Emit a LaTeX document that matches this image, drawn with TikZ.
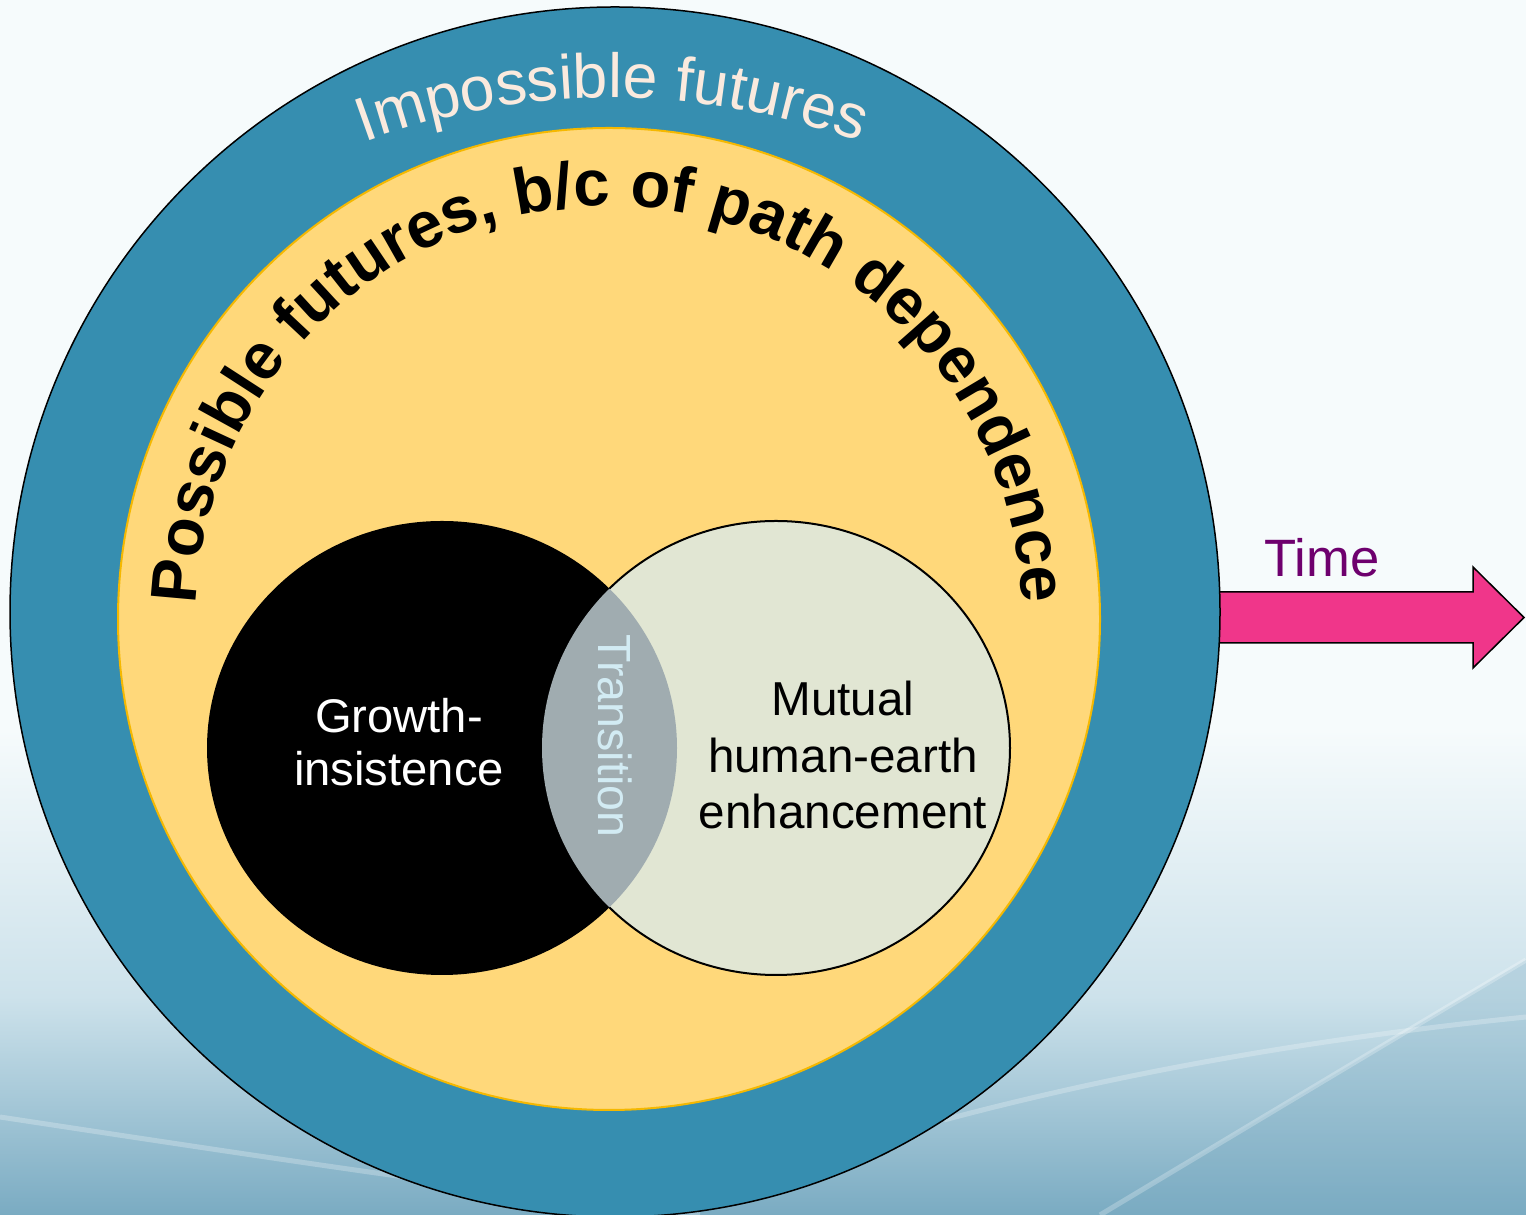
\documentclass[tikz,border=0pt]{standalone}
\usepackage{fontspec}
\setmainfont{Liberation Sans}
\usetikzlibrary{decorations.text}
\definecolor{bgtop}{RGB}{246,251,252}
\definecolor{bgmid}{RGB}{205,226,235}
\definecolor{bgbot}{RGB}{122,171,194}
\definecolor{outercol}{RGB}{54,142,176}
\definecolor{yellowcol}{RGB}{255,216,122}
\definecolor{goldcol}{RGB}{245,184,0}
\definecolor{lightcol}{RGB}{225,230,211}
\definecolor{lenscol}{RGB}{160,172,176}
\definecolor{transcol}{RGB}{210,235,243}
\definecolor{impcol}{RGB}{250,234,222}
\definecolor{timecol}{RGB}{110,0,110}
\definecolor{arrowcol}{RGB}{240,54,138}
\pgfdeclareverticalshading{bgshade}{100bp}{color(0bp)=(bgbot); color(25bp)=(bgbot); color(34bp)=(bgmid); color(45bp)=(bgtop); color(100bp)=(bgtop)}
\tikzset{
  ribbon/.style={draw=white, opacity=0.25, line width=2.5pt},
  label/.style={inner sep=0pt, align=center},
}
\begin{document}
\begin{tikzpicture}[x=0.5pt,y=0.5pt]
\useasboundingbox (0,0) rectangle (1526,1215);
\clip (0,0) rectangle (1526,1215);
% background
\shade[shading=bgshade] (0,0) rectangle (1526,1215);
\fill[bgbot, opacity=0.3] (1526,255) .. controls (1350,150) and (1200,60) .. (1100,0) -- (1526,0) -- cycle;
\path[ribbon] (0,98) .. controls (250,60) and (480,25) .. (700,0);
\path[ribbon] (944,95) .. controls (1150,150) and (1350,180) .. (1526,198);
\path[ribbon] (1526,255) .. controls (1350,150) and (1200,60) .. (1100,0);
% centres
\coordinate (oc) at (615,603);
\coordinate (yc) at (609,596);
\coordinate (ic) at (612,401);
\coordinate (bc) at (442,467);
\coordinate (lc) at (776,467);
% time arrow
\filldraw[fill=arrowcol, draw=black, line width=0.75pt]
  (1200,623) -- (1473,623) -- (1473,648) -- (1524,597.5) -- (1473,547) -- (1473,572) -- (1200,572) -- cycle;
% circles
\filldraw[fill=outercol, draw=black, line width=0.75pt] (oc) circle[radius=605];
\filldraw[fill=yellowcol, draw=goldcol, line width=1pt] (yc) circle[radius=491];
\fill[black] (bc) ellipse[x radius=235, y radius=227];
\filldraw[fill=lightcol, draw=black, line width=1pt] (lc) ellipse[x radius=234, y radius=227];
\begin{scope}
  \clip (bc) ellipse[x radius=235, y radius=227];
  \fill[lenscol] (lc) ellipse[x radius=234, y radius=227];
\end{scope}
% curved texts
\path[decorate, decoration={text along path, text={|\fontsize{31.2}{37}\selectfont|Impossible futures}, text color=impcol, text align=center}]
  (ic) ++(135:716) arc[start angle=135, end angle=45, radius=716];
\path[decorate, decoration={text along path, text={|\bfseries\fontsize{32.5}{38}\selectfont|Possible futures, b/c of path dependence}, text align=center}]
  (yc) ++(200:413) arc[start angle=200, end angle=-20, radius=413];
% labels
\node[label, font=\fontsize{23.6}{26.5}\selectfont, text=white] (growth) at (399,473) {Growth-\\insistence};
\node[label, font=\fontsize{23.8}{28.4}\selectfont, text=black] (mutual) at (843,460) {Mutual\\human-earth\\enhancement};
\node[label, font=\fontsize{23.25}{28}\selectfont, text=transcol, rotate=-90] (transition) at (615,479) {Transition};
\node[label, font=\fontsize{26.3}{31}\selectfont, text=timecol, anchor=base] (time) at (1322,638) {Time};
\end{tikzpicture}
\end{document}
